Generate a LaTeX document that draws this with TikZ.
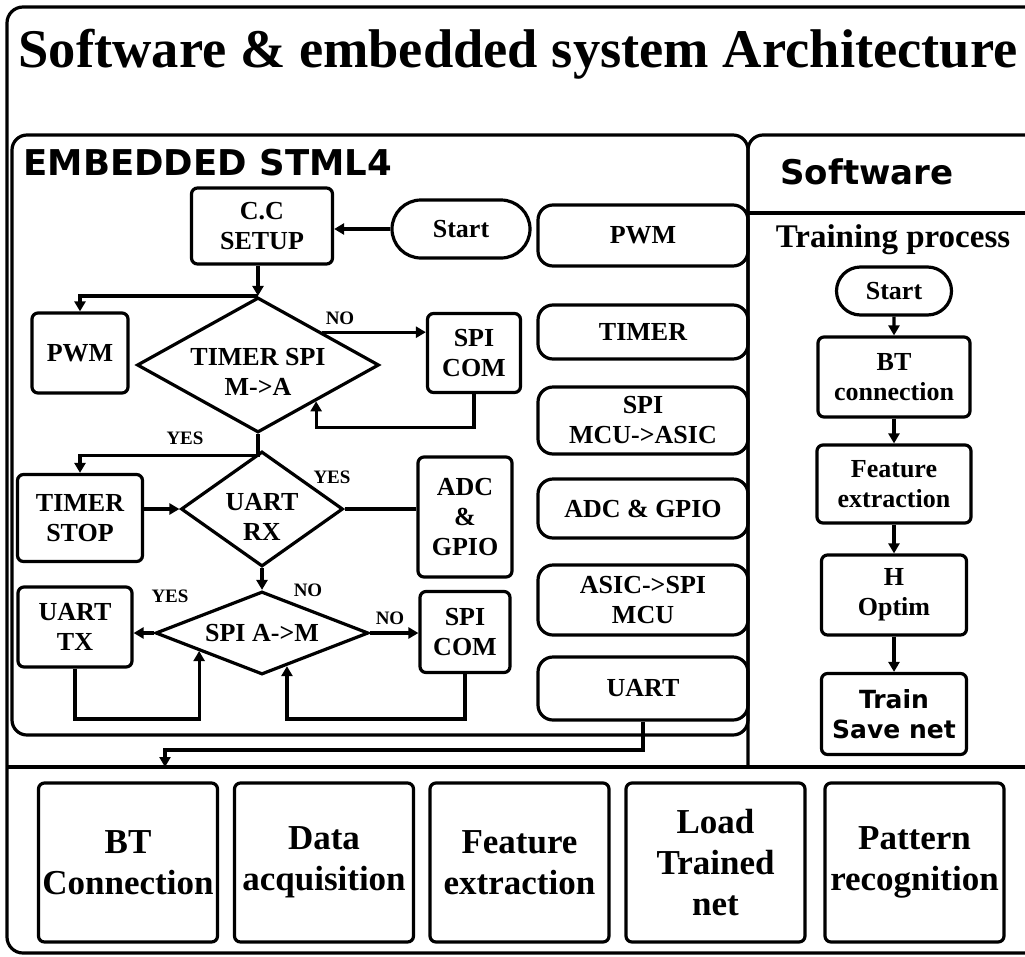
\documentclass[tikz,border=0pt]{standalone}
\usepackage{fontspec}
\setmainfont{Liberation Serif}
\newfontfamily\gothic{DejaVu Sans}
\usetikzlibrary{arrows.meta,shapes.geometric,shapes.misc}

\begin{document}
\begin{tikzpicture}[x=1pt,y=-1pt,line width=3.2pt,
  txtA/.style={font=\bfseries\fontsize{26}{30}\selectfont,align=center},
  box/.style={draw,rounded corners=6pt,inner sep=0pt,txtA},
  pill/.style={box,rounded corners=15pt},
  term/.style={draw,rounded rectangle,inner sep=0pt,txtA},
  dia/.style={draw,diamond,inner sep=0pt},
  tag/.style={font=\bfseries\fontsize{19}{22}\selectfont,inner sep=0pt},
  head/.style={font=\gothic\bfseries\fontsize{34}{38}\selectfont,inner sep=0pt},
  arr/.style={-{Triangle[length=10pt,width=11pt]}}]
\useasboundingbox (0,0) rectangle (1025,956);
\clip (0,0) rectangle (1025,956);
% frames
\draw[rounded corners=16pt] (1045,7) -- (7,7) -- (7,953) -- (1045,953);
\draw[rounded corners=15pt] (12,135) rectangle (748,735);
\draw[rounded corners=15pt] (748,767) -- (748,135) -- (1045,135);
\draw (748,213) -- (1045,213);
\draw (7,767) -- (1045,767);
% titles
\node[anchor=base west,inner sep=0pt,font=\bfseries\fontsize{54.5}{60}\selectfont] (title) at (17,67)
  {Software \& embedded system Architecture};
\node[head,anchor=west,font=\gothic\bfseries\fontsize{35.5}{38}\selectfont] (embTitle) at (22,163) {EMBEDDED STML4};
\node[head] (swTitle) at (867,172) {Software};
\node[font=\bfseries\fontsize{33}{36}\selectfont,inner sep=0pt] (trainTitle) at (893,240) {Training process};
% embedded flow
\node[box,minimum width=141pt,minimum height=76pt] (ccSetup) at (262,226) {C.C\\SETUP};
\node[term,minimum width=138pt,minimum height=58pt] (start) at (461,229) {Start};
\node[box,minimum width=96pt,minimum height=80pt] (pwmL) at (80,353) {PWM};
\node[dia,minimum width=242pt,minimum height=135pt,
  label={[txtA,yshift=-7pt]center:TIMER SPI\\M->A}] (timerSpi) at (258,365) {};
\node[box,minimum width=93pt,minimum height=79pt] (spiComA) at (474,353) {SPI\\COM};
\node[box,minimum width=125pt,minimum height=87pt] (timerStop) at (80,518) {TIMER\\STOP};
\node[dia,minimum width=162pt,minimum height=115pt,
  label={[txtA,yshift=-8pt]center:UART\\RX}] (uartRx) at (262,509) {};
\node[box,minimum width=94pt,minimum height=120pt] (adcGpio) at (465,517) {ADC\\\&\\GPIO};
\node[dia,minimum width=213pt,minimum height=83pt,
  label={[txtA]center:SPI A->M}] (spiAM) at (262,633) {};
\node[box,minimum width=114pt,minimum height=80pt] (uartTx) at (75,627) {UART\\TX};
\node[box,minimum width=90pt,minimum height=81pt] (spiComB) at (465,632) {SPI\\COM};
% branch tags
\node[tag] (noA) at (340,318) {NO};
\node[tag] (yesA) at (185,438) {YES};
\node[tag] (yesB) at (332,477) {YES};
\node[tag] (noB) at (308,590) {NO};
\node[tag] (yesC) at (170,596) {YES};
\node[tag] (noC) at (390,618) {NO};
% peripheral column
\foreach \nm/\yc/\hh/\txt in {rPwm/235.5/61/PWM, rTimer/332/54/TIMER,
    rSpi/420.5/67/{SPI\\MCU->ASIC}, rAdc/508.5/59/{ADC \& GPIO},
    rAsic/600/70/{ASIC->SPI\\MCU}, rUart/688.5/63/UART}{
  \node[pill,minimum width=210pt,minimum height=\hh pt] (\nm) at (643,\yc) {\txt};
}
% connectors
\draw[arr] (start.west) -- (start.west -| ccSetup.east);
\draw[arr] (ccSetup.south -| timerSpi.north) -- (timerSpi.north);
\draw[arr] (timerSpi.north) -| (pwmL.north);
\draw[arr] (timerSpi.27) -- (timerSpi.27 -| spiComA.west);
\draw[arr] (spiComA.south) -- ++(0,33) -| (timerSpi.-32);
\draw[arr] (timerSpi.south) -- ++(0,21) -| (timerStop.north);
\draw[arr] (timerStop.east |- uartRx.west) -- (uartRx.west);
\draw (uartRx.east) -- (uartRx.east -| adcGpio.west);
\draw[arr] (uartRx.south) -- (spiAM.north);
\draw[arr] (spiAM.west) -- (spiAM.west -| uartTx.east);
\draw[arr] (spiAM.east) -- (spiAM.east -| spiComB.west);
\coordinate (loopY) at (0,719);
\draw[arr] (uartTx.south) -- (uartTx.south |- loopY) -| (spiAM.196);
\draw[arr] (spiComB.south) -- (spiComB.south |- loopY) -| (spiAM.-53);
% to the application row
\coordinate (busY) at (0,750);
\coordinate (btIn) at (165,767);
\draw[arr] (rUart.south) -- (rUart.south |- busY) -| (btIn);
% training process
\node[term,minimum width=115pt,minimum height=48pt] (swStart) at (894,291) {Start};
\node[box,minimum width=152pt,minimum height=80pt] (swBt) at (894,377) {BT\\connection};
\node[box,minimum width=154pt,minimum height=78pt] (swFeat) at (894,484) {Feature\\extraction};
\node[box,minimum width=145pt,minimum height=80pt] (swOptim) at (894,595) {H\\Optim};
\node[box,minimum width=145pt,minimum height=81pt,font=\gothic\bfseries\fontsize{25}{30}\selectfont]
  (swTrain) at (894,714) {Train\\Save net};
\foreach \a/\b in {swStart/swBt,swBt/swFeat,swFeat/swOptim,swOptim/swTrain}{
  \draw[arr] (\a) -- (\b);
}
% application row
\foreach \nm/\xc/\txt in {bBt/128/{BT\\Connection}, bData/324/{Data\\acquisition},
    bFeat/519.5/{Feature\\extraction}, bLoad/715.5/{Load\\Trained\\net},
    bPat/914.5/{Pattern\\recognition}}{
  \node[box,font=\bfseries\fontsize{35}{41}\selectfont,minimum width=179pt,minimum height=159pt]
    (\nm) at (\xc,862.5) {\txt};
}
\end{tikzpicture}
\end{document}
